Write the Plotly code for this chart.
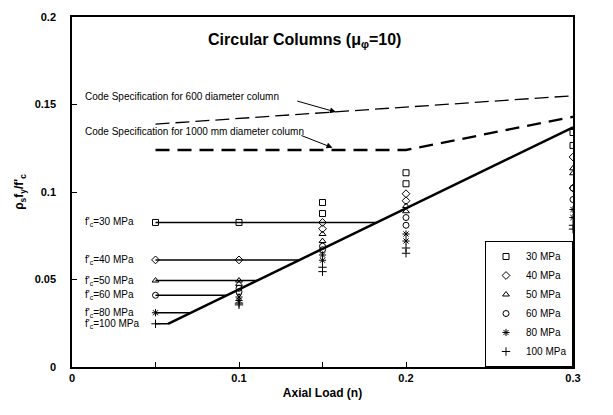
import plotly.graph_objects as go

# ---------------- data ----------------
fc_names = ["30 MPa", "40 MPa", "50 MPa", "60 MPa", "80 MPa", "100 MPa"]
fc_labels = ["f'<sub>c</sub>=30 MPa", "f'<sub>c</sub>=40 MPa", "f'<sub>c</sub>=50 MPa",
             "f'<sub>c</sub>=60 MPa", "f'<sub>c</sub>=80 MPa", "f'<sub>c</sub>=100 MPa"]
symbols = ["square-open", "diamond-open", "triangle-up-open", "circle-open",
           "asterisk-open", "cross-thin-open"]

# minimum (constant) requirement of each f'c
design_min = [0.0826, 0.0612, 0.0494, 0.041, 0.031, 0.0247]

# analysis results at each axial load level
n_levels = [0.1, 0.15, 0.2, 0.3]
res_01 = [[0.0826], [0.0612], [0.0494, 0.0475], [0.045, 0.043], [0.040, 0.038], [0.0365, 0.0355]]
res_015 = [[0.094, 0.0877], [0.0826, 0.079], [0.076, 0.072], [0.069, 0.067], [0.064, 0.061], [0.057, 0.0545]]
res_02 = [[0.111, 0.1047], [0.099, 0.095], [0.092, 0.089], [0.0854, 0.081], [0.076, 0.072], [0.068, 0.065]]
res_03 = [[0.134, 0.1266], [0.120, 0.1022], [0.1135, 0.1107], [0.1022, 0.0957], [0.090, 0.0854], [0.0788, 0.081]]
n_start = 0.05

# design line (solid)
diag_n = [0.0575, 0.3]
diag_v = [0.0247, 0.137]

# code specification lines (dashed)
code600_n = [0.05, 0.3]
code600_v = [0.1388, 0.155]
code1000_n = [0.05, 0.2, 0.3]
code1000_v = [0.124, 0.124, 0.143]

FONT = "Liberation Sans, Arial, sans-serif"

fig = go.Figure()

# design line
slope = (diag_v[1] - diag_v[0]) / (diag_n[1] - diag_n[0])
fig.add_trace(go.Scatter(x=diag_n, y=diag_v, mode="lines",
                         line=dict(color="black", width=2.5), showlegend=False, hoverinfo="skip"))

# horizontal minimum lines to the design line
for v in design_min:
    n_int = diag_n[0] + (v - diag_v[0]) / slope
    fig.add_trace(go.Scatter(x=[n_start, n_int], y=[v, v], mode="lines",
                             line=dict(color="black", width=1.5), showlegend=False, hoverinfo="skip"))

# code specification lines
fig.add_trace(go.Scatter(x=code600_n, y=code600_v, mode="lines",
                         line=dict(color="black", width=1.3, dash="14px,6px"),
                         showlegend=False, hoverinfo="skip"))
fig.add_trace(go.Scatter(x=code1000_n, y=code1000_v, mode="lines",
                         line=dict(color="black", width=2.3, dash="14px,8px"),
                         showlegend=False, hoverinfo="skip"))

# markers
for i, name in enumerate(fc_names):
    xs = [n_start]
    ys = [design_min[i]]
    for lvl, res in zip(n_levels, [res_01, res_015, res_02, res_03]):
        for v in res[i]:
            xs.append(lvl)
            ys.append(v)
    fig.add_trace(go.Scatter(
        x=xs, y=ys, mode="markers", name=name,
        marker=dict(symbol=symbols[i], size=6, color="black",
                    line=dict(width=1, color="black"))))

annotations = []
# left labels
for v, lab in zip(design_min, fc_labels):
    annotations.append(dict(x=0.022, xref="paper", y=v, yref="y", text=lab,
                            showarrow=False, xanchor="left", yanchor="middle",
                            font=dict(family=FONT, size=10, color="black")))
# title
annotations.append(dict(x=0.465, xref="paper", y=0.1865, yref="y",
                        text="<b>Circular Columns (μ<sub>φ</sub>=10)</b>",
                        showarrow=False, xanchor="center", yanchor="middle",
                        font=dict(family=FONT, size=16, color="black")))
# code spec texts
annotations.append(dict(x=0.022, xref="paper", y=0.1545, yref="y",
                        text="Code Specification for 600 diameter column",
                        showarrow=False, xanchor="left", yanchor="middle",
                        font=dict(family=FONT, size=10, color="black")))
annotations.append(dict(x=0.022, xref="paper", y=0.1348, yref="y",
                        text="Code Specification for 1000 mm diameter column",
                        showarrow=False, xanchor="left", yanchor="middle",
                        font=dict(family=FONT, size=10, color="black")))
# arrows
annotations.append(dict(x=0.158, y=0.1457, xref="x", yref="y", ax=0.134, ay=0.1522,
                        axref="x", ayref="y", text="", showarrow=True,
                        arrowhead=2, arrowsize=1.2, arrowwidth=1, arrowcolor="black"))
annotations.append(dict(x=0.156, y=0.1253, xref="x", yref="y", ax=0.1365, ay=0.1326,
                        axref="x", ayref="y", text="", showarrow=True,
                        arrowhead=2, arrowsize=1.2, arrowwidth=1, arrowcolor="black"))

x_ticks = [0, 0.05, 0.1, 0.15, 0.2, 0.25, 0.3]
x_ticktext = ["0", "", "0.1", "", "0.2", "", "0.3"]
y_ticks = [0, 0.05, 0.1, 0.15, 0.2]
y_ticktext = ["0", "0.05", "0.1", "0.15", "0.2"]

fig.update_layout(
    width=613, height=415,
    margin=dict(l=72, r=40, t=11, b=48),
    paper_bgcolor="white", plot_bgcolor="white",
    font=dict(family=FONT, color="black"),
    annotations=annotations,
    showlegend=True,
    legend=dict(x=1, xanchor="right", y=0, yanchor="bottom",
                bgcolor="white", bordercolor="black", borderwidth=1,
                font=dict(family=FONT, size=10, color="black"),
                tracegroupgap=0, itemwidth=30),
    xaxis=dict(range=[0, 0.3], tickvals=x_ticks, ticktext=x_ticktext,
               ticks="inside", ticklen=5, tickcolor="black",
               showline=True, linecolor="black", linewidth=1.5, mirror=True,
               showgrid=False, zeroline=False,
               tickfont=dict(family=FONT, size=11, color="black", weight="bold"),
               title=dict(text="<b>Axial Load (n)</b>", font=dict(family=FONT, size=12), standoff=6)),
    yaxis=dict(range=[0, 0.2], tickvals=y_ticks, ticktext=y_ticktext,
               ticks="inside", ticklen=5, tickcolor="black",
               showline=True, linecolor="black", linewidth=1.5, mirror=True,
               showgrid=False, zeroline=False, ticklabelstandoff=12,
               tickfont=dict(family=FONT, size=11, color="black", weight="bold"),
               title=dict(text="<b>ρ<sub>s</sub>f<sub>y</sub>/f'<sub>c</sub></b>",
                          font=dict(family=FONT, size=12), standoff=8)),
)

fig.write_html("out.html")
